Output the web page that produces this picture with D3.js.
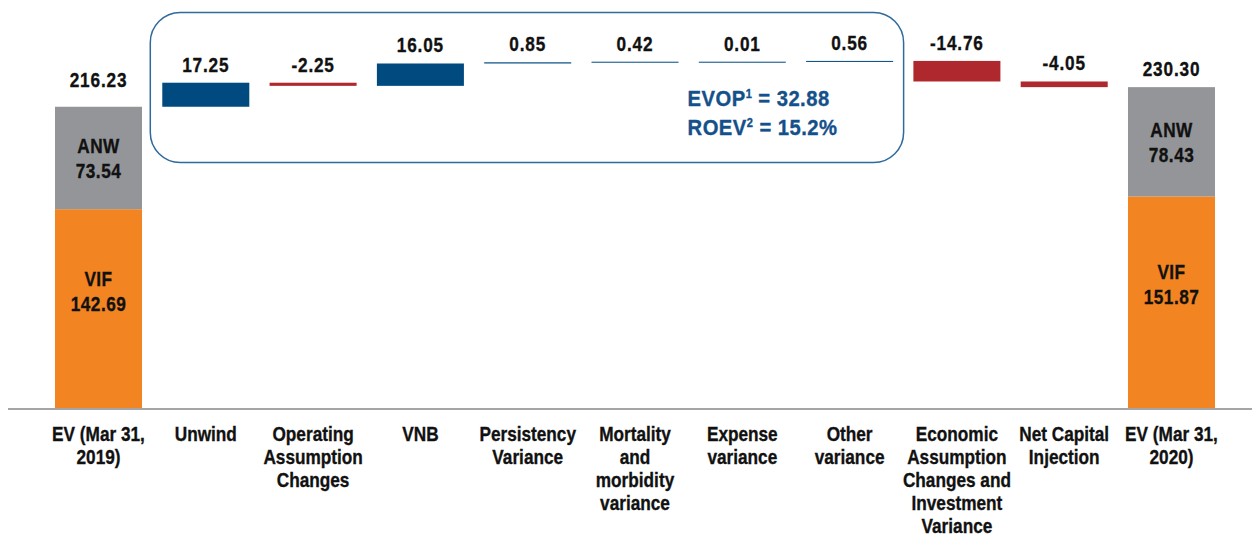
<!DOCTYPE html>
<html>
<head>
<meta charset="utf-8">
<script src="https://cdn.jsdelivr.net/npm/d3@7"></script>
<style>
  html, body { margin: 0; padding: 0; background: #fff; }
  svg { display: block; }
  text { font-family: "Liberation Sans", Arial, sans-serif; font-weight: bold; }
</style>
</head>
<body>
<svg id="chart" width="1252" height="538"></svg>
<script>
// Embedded value walk: opening EV, movements, closing EV
const categories = [
  "EV (Mar 31,\n2019)", "Unwind", "Operating\nAssumption\nChanges", "VNB",
  "Persistency\nVariance", "Mortality\nand\nmorbidity\nvariance", "Expense\nvariance",
  "Other\nvariance", "Economic\nAssumption\nChanges and\nInvestment\nVariance",
  "Net Capital\nInjection", "EV (Mar 31,\n2020)"
];
const anwValues = [73.54, null, null, null, null, null, null, null, null, null, 78.43];
const vifValues = [142.69, null, null, null, null, null, null, null, null, null, 151.87];
const deltaValues = [null, 17.25, -2.25, 16.05, 0.85, 0.42, 0.01, 0.56, -14.76, -4.05, null];
const evopLines = [["EVOP", "1", " = 32.88"], ["ROEV", "2", " = 15.2%"]];

const colors = { anw: "#939598", vif: "#f28421", up: "#004a80", down: "#af282e", box: "#2f6a9c", note: "#14508a" };

const svg = d3.select("#chart");
const W = 1252;
const baseY = 408;
const NARROW = 0.82;

const x = d3.scaleBand()
  .domain(categories)
  .range([44.85, 1225.15])
  .paddingInner(0.189)
  .paddingOuter(0.0945);

const y = d3.scaleLinear().domain([0, 250]).range([baseY, baseY - 348.3]);

// Condensed heavy text: a horizontally squeezed group holding one or more lines
function narrowText(parent, px, py, lines, opt = {}) {
  const sx = opt.sx || NARROW;
  const fill = opt.fill || "#111";
  const gg = parent.append("g").attr("transform", `translate(${px},${py}) scale(${sx},1)`);
  const t = gg.append("text")
    .attr("text-anchor", opt.anchor || "middle")
    .attr("font-size", opt.size || 21)
    .attr("fill", fill)
    .attr("stroke", fill).attr("stroke-width", 0.35)
    .attr("letter-spacing", opt.ls || 0);
  lines.forEach((ln, k) => {
    t.append("tspan").attr("x", 0).attr("y", k * (opt.lh || 24)).text(ln);
  });
  return t;
}

// Build waterfall rows
let running = 0;
const rows = categories.map((c, i) => {
  if (anwValues[i] != null) {
    const total = anwValues[i] + vifValues[i];
    running = total;
    return { c, i, kind: "total", vif: vifValues[i], anw: anwValues[i], total };
  }
  const d = deltaValues[i];
  const start = running, end = running + d;
  running = end;
  return { c, i, kind: "delta", d, start, end };
});

// Baseline
svg.append("line")
  .attr("x1", 8).attr("x2", W)
  .attr("y1", baseY + 1).attr("y2", baseY + 1)
  .attr("stroke", "#a5a5a5").attr("stroke-width", 2);

// Summary box around the operating movements
const boxL = x(categories[1]) - 12;
const boxR = x(categories[7]) + x.bandwidth() + 10.5;
svg.append("rect")
  .attr("x", boxL).attr("y", 12.5)
  .attr("width", boxR - boxL).attr("height", 150)
  .attr("rx", 30).attr("ry", 30)
  .attr("fill", "none").attr("stroke", colors.box).attr("stroke-width", 1.5);

const g = svg.append("g");

// Total bars (stacked VIF + ANW)
rows.filter(r => r.kind === "total").forEach(r => {
  const bx = x(r.c), bw = x.bandwidth();
  g.append("rect").attr("x", bx).attr("width", bw)
    .attr("y", y(r.vif)).attr("height", y(0) - y(r.vif)).attr("fill", colors.vif);
  g.append("rect").attr("x", bx).attr("width", bw)
    .attr("y", y(r.total)).attr("height", y(r.vif) - y(r.total)).attr("fill", colors.anw);

  const cx = bx + bw / 2;
  const anwMid = (y(r.vif) + y(r.total)) / 2;
  const vifMid = (y(0) + y(r.vif)) / 2;
  narrowText(g, cx, anwMid - 4.75, ["ANW", r.anw.toFixed(2)], { lh: 24.8, ls: 0.6 });
  narrowText(g, cx, vifMid - 22.75, ["VIF", r.vif.toFixed(2)], { lh: 24.8, ls: 0.6 });
  narrowText(g, cx, y(r.total) - (r.i === 0 ? 20 : 11), [r.total.toFixed(2)], { ls: 1 });
});

// Movement bars
rows.filter(r => r.kind === "delta").forEach(r => {
  const top = y(Math.max(r.start, r.end));
  const bot = y(Math.min(r.start, r.end));
  const h = Math.max(1, bot - top);
  g.append("rect").attr("x", x(r.c)).attr("width", x.bandwidth())
    .attr("y", top).attr("height", h)
    .attr("fill", r.d >= 0 ? colors.up : colors.down);
  narrowText(g, x(r.c) + x.bandwidth() / 2, top - 11, [r.d.toFixed(2)], { ls: 1 });
});

// EVOP / ROEV note
evopLines.forEach((ln, k) => {
  const gg = svg.append("g")
    .attr("transform", `translate(${boxR - 216},${106 + k * 29}) scale(0.92,1)`);
  const t = gg.append("text").attr("font-size", 22).attr("fill", colors.note)
    .attr("stroke", colors.note).attr("stroke-width", 0.35)
    .attr("letter-spacing", 0.5).attr("x", 0).attr("y", 0)
    .attr("xml:space", "preserve");
  t.append("tspan").text(ln[0]);
  t.append("tspan").attr("font-size", 12).attr("dy", -8).text(ln[1]);
  t.append("tspan").attr("dy", 8).text(ln[2]);
});

// Category axis
const axis = d3.axisBottom(x).tickSize(0).tickFormat("");
const ax = svg.append("g").attr("transform", `translate(0,${baseY})`).call(axis);
ax.select(".domain").remove();
ax.selectAll(".tick").each(function(c) {
  narrowText(d3.select(this), 0, 33, c.split("\n"), { lh: 23 });
});
</script>
</body>
</html>
